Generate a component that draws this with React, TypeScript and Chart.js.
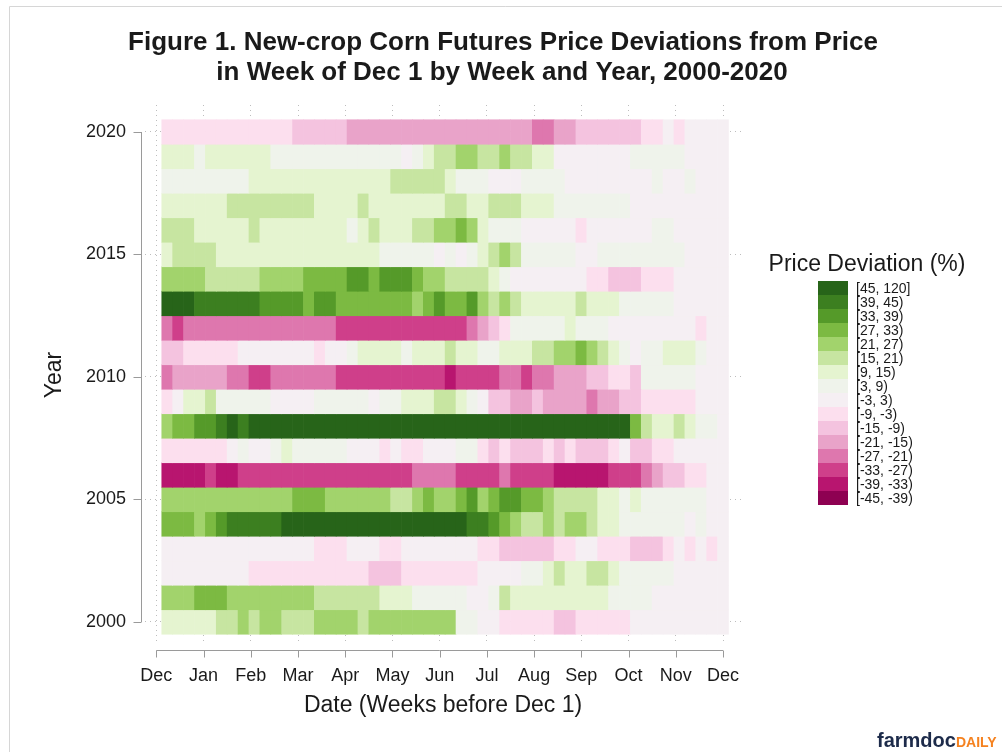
import React, { useEffect, useRef } from 'react';
import { Chart, registerables } from 'chart.js';

Chart.register(...registerables);

// ---------- data ----------
const titleLines = [
  'Figure 1. New-crop Corn Futures Price Deviations from Price',
  'in Week of Dec 1 by Week and Year, 2000-2020',
];
const monthLabels = ['Dec', 'Jan', 'Feb', 'Mar', 'Apr', 'May', 'Jun', 'Jul', 'Aug', 'Sep', 'Oct', 'Nov', 'Dec'];
const yearTicks = [2000, 2005, 2010, 2015, 2020];
const weeks = [1, 2, 3, 4, 5, 6, 7, 8, 9, 10, 11, 12, 13, 14, 15, 16, 17, 18, 19, 20, 21, 22, 23, 24, 25, 26,
  27, 28, 29, 30, 31, 32, 33, 34, 35, 36, 37, 38, 39, 40, 41, 42, 43, 44, 45, 46, 47, 48, 49, 50, 51, 52];

// price deviation (%) per week, weeks 1..52 before Dec 1 (estimated from colour bins)
const dev2020 = [-6, -6, -6, -6, -6, -6, -6, -6, -6, -6, -6, -6, -12, -12, -12, -12, -12, -18, -18, -18, -18, -18, -18, -18, -18, -18, -18, -18, -18, -18, -18, -18, -18, -18, -24, -24, -18, -18, -12, -12, -12, -12, -12, -12, -6, -6, 0, -6, 0, 0, 0, 0];
const dev2019 = [12, 12, 12, 6, 12, 12, 12, 12, 12, 12, 6, 6, 6, 6, 6, 6, 6, 6, 6, 6, 6, 6, 0, 6, 12, 18, 18, 24, 24, 18, 18, 24, 18, 18, 12, 12, 0, 0, 0, 0, 0, 0, 0, 6, 6, 6, 6, 6, 0, 0, 0, 0];
const dev2018 = [6, 6, 6, 6, 6, 6, 6, 6, 12, 12, 12, 12, 12, 12, 12, 12, 12, 12, 12, 12, 12, 18, 18, 18, 18, 18, 12, 6, 6, 6, 0, 0, 0, 6, 6, 6, 6, 0, 0, 0, 0, 0, 0, 0, 0, 6, 0, 0, 6, 0, 0, 0];
const dev2017 = [12, 12, 12, 12, 12, 12, 18, 18, 18, 18, 18, 18, 18, 18, 12, 12, 12, 12, 18, 12, 12, 12, 12, 12, 12, 12, 18, 18, 12, 12, 18, 18, 18, 12, 12, 12, 6, 6, 6, 6, 6, 6, 6, 0, 0, 0, 0, 0, 0, 0, 0, 0];
const dev2016 = [18, 18, 18, 12, 12, 12, 12, 12, 18, 12, 12, 12, 12, 12, 12, 12, 12, 6, 12, 18, 12, 12, 12, 18, 18, 24, 24, 30, 24, 12, 6, 6, 6, 0, 0, 0, 0, 0, -6, 0, 0, 0, 0, 0, 0, 6, 6, 0, 0, 0, 0, 0];
const dev2015 = [12, 18, 18, 18, 18, 12, 12, 12, 12, 12, 12, 12, 12, 12, 12, 12, 12, 12, 12, 12, 6, 6, 6, 6, 6, 0, 6, 0, 6, 12, 18, 24, 18, 6, 6, 6, 6, 6, 0, 0, 6, 6, 6, 6, 6, 6, 6, 6, 0, 0, 0, 0];
const dev2014 = [24, 24, 24, 24, 18, 18, 18, 18, 18, 24, 24, 24, 24, 30, 30, 30, 30, 36, 36, 30, 36, 36, 36, 30, 24, 24, 18, 18, 18, 18, 12, 6, 0, 0, 0, 0, 0, 0, 0, -6, -6, -12, -12, -12, -6, -6, -6, 0, 0, 0, 0, 0];
const dev2013 = [48, 48, 48, 42, 42, 42, 42, 42, 42, 36, 36, 36, 36, 30, 36, 36, 30, 30, 30, 30, 30, 30, 30, 24, 30, 36, 30, 30, 36, 24, 18, 24, 18, 12, 12, 12, 12, 12, 18, 12, 12, 12, 6, 6, 6, 6, 6, 0, 0, 0, 0, 0];
const dev2012 = [-24, -30, -24, -24, -24, -24, -24, -24, -24, -24, -24, -24, -24, -24, -24, -24, -30, -30, -30, -30, -30, -30, -30, -30, -30, -30, -30, -30, -24, -18, -12, -6, 6, 6, 6, 6, 6, 12, 6, 6, 6, 0, 0, 0, 0, 0, 0, 0, 0, -6, 0, 0];
const dev2011 = [-12, -12, -6, -6, -6, -6, -6, 0, 0, 0, 0, 0, 0, 0, -6, 0, 0, 6, 12, 12, 12, 12, 6, 12, 12, 12, 18, 12, 12, 6, 6, 12, 12, 12, 18, 18, 24, 24, 30, 24, 18, 12, 6, 0, 6, 6, 12, 12, 12, 6, 0, 0];
const dev2010 = [-24, -18, -18, -18, -18, -18, -24, -24, -30, -30, -24, -24, -24, -24, -24, -24, -30, -30, -30, -30, -30, -30, -30, -30, -30, -30, -36, -30, -30, -30, -30, -24, -24, -30, -24, -24, -18, -18, -18, -12, -12, -6, -6, -12, 6, 6, 6, 6, 6, 0, 0, 0];
const dev2009 = [-6, 0, 12, 12, 18, 6, 6, 6, 6, 6, 0, 0, 0, 0, 6, 6, 6, 6, 6, 0, 6, 6, 12, 12, 12, 18, 18, 12, 6, 0, -12, -12, -18, -18, -12, -18, -18, -18, -18, -24, -18, -18, -12, -12, -6, -6, -6, -6, -6, 0, 0, 0];
const dev2008 = [24, 30, 30, 36, 36, 42, 48, 42, 48, 48, 48, 48, 48, 48, 48, 48, 48, 48, 48, 48, 48, 48, 48, 48, 48, 48, 48, 48, 48, 48, 48, 48, 48, 48, 48, 48, 48, 48, 48, 48, 48, 48, 48, 30, 18, 12, 12, 18, 12, 6, 6, 0];
const dev2007 = [-6, -6, -6, -6, -6, -6, 0, 6, 0, 0, 6, 12, 6, 6, 6, 6, 6, 0, 0, 0, -6, 0, -6, -6, 0, 0, 0, 6, 6, -6, -12, -6, -12, -12, -12, -6, -12, -6, -12, -12, -12, -6, 0, -12, -12, -6, -6, 0, 0, 0, 0, 0];
const dev2006 = [-36, -36, -36, -36, -30, -36, -36, -30, -30, -30, -30, -30, -30, -30, -30, -30, -30, -30, -30, -30, -30, -30, -30, -24, -24, -24, -24, -30, -30, -30, -30, -24, -30, -30, -30, -30, -36, -36, -36, -36, -36, -30, -30, -30, -24, -18, -12, -12, -6, -6, 0, 0];
const dev2005 = [24, 24, 24, 24, 24, 24, 24, 24, 24, 24, 24, 24, 30, 30, 30, 24, 24, 24, 24, 24, 24, 18, 18, 24, 30, 24, 24, 30, 36, 24, 30, 36, 36, 30, 30, 24, 18, 18, 18, 18, 12, 12, 6, 12, 6, 6, 6, 6, 6, 6, 0, 0];
const dev2004 = [30, 30, 30, 24, 30, 36, 42, 42, 42, 42, 42, 48, 48, 48, 48, 48, 48, 48, 48, 48, 48, 48, 48, 48, 48, 48, 48, 48, 42, 42, 36, 30, 24, 18, 18, 24, 18, 24, 24, 18, 12, 12, 6, 6, 6, 6, 6, 6, 0, 6, 0, 0];
const dev2003 = [0, 0, 0, 0, 0, 0, 0, 0, 0, 0, 0, 0, 0, 0, -6, -6, -6, 0, 0, 0, -6, -6, 0, 0, 0, 0, 0, 0, 0, -6, -6, -12, -12, -12, -12, -12, -6, -6, 0, 0, -6, -6, -6, -12, -12, -12, -6, 0, -6, 0, -6, 0];
const dev2002 = [0, 0, 0, 0, 0, 0, 0, 0, -6, -6, -6, -6, -6, -6, -6, -6, -6, -6, -6, -12, -12, -12, -6, -6, -6, -6, -6, -6, -6, 0, 0, 0, 0, 6, 6, 12, 18, 12, 12, 18, 18, 12, 6, 6, 6, 6, 6, 0, 0, 0, 0, 0];
const dev2001 = [24, 24, 24, 30, 30, 30, 24, 24, 24, 24, 24, 24, 24, 24, 18, 18, 18, 18, 18, 18, 12, 12, 12, 6, 6, 6, 6, 6, 0, 0, 6, 18, 12, 12, 12, 12, 12, 12, 12, 12, 12, 6, 6, 6, 6, 0, 0, 0, 0, 0, 0, 0];
const dev2000 = [12, 12, 12, 12, 12, 18, 18, 24, 18, 24, 24, 18, 18, 18, 24, 24, 24, 24, 18, 24, 24, 24, 24, 24, 24, 24, 24, 6, 6, 0, 0, -6, -6, -6, -6, -6, -12, -12, -6, -6, -6, -6, -6, 0, 0, 0, 0, 0, 0, 0, 0, 0];

const years = [2000, 2001, 2002, 2003, 2004, 2005, 2006, 2007, 2008, 2009, 2010, 2011, 2012, 2013, 2014, 2015, 2016, 2017, 2018, 2019, 2020];
const yearRows = [dev2000, dev2001, dev2002, dev2003, dev2004, dev2005, dev2006, dev2007, dev2008, dev2009, dev2010,
  dev2011, dev2012, dev2013, dev2014, dev2015, dev2016, dev2017, dev2018, dev2019, dev2020];

// colour bins (low -> high)
const binEdges = [-45, -39, -33, -27, -21, -15, -9, -3, 3, 9, 15, 21, 27, 33, 39, 45, 120];
const binLabels = ['[-45, -39)', '[-39, -33)', '[-33, -27)', '[-27, -21)', '[-21, -15)', '[-15, -9)', '[-9, -3)', '[-3, 3)',
  '[3, 9)', '[9, 15)', '[15, 21)', '[21, 27)', '[27, 33)', '[33, 39)', '[39, 45)', '[45, 120]'];
const binColors = ['#8e0152', '#b8156f', '#cf3f8a', '#de77ae', '#e9a3c9', '#f4c3df', '#fcdfee', '#f5eff3',
  '#eff3eb', '#e5f4d0', '#c7e5a1', '#a2d36c', '#7cba42', '#559a29', '#3c7f20', '#276419'];

const FONT = '"Liberation Sans", Arial, Helvetica, sans-serif';

function colorFor(v: number): string {
  for (let k = 0; k < binEdges.length - 1; k++) {
    if (v >= binEdges[k] && v < binEdges[k + 1]) return binColors[k];
  }
  return v < binEdges[0] ? binColors[0] : binColors[binColors.length - 1];
}

const decorPlugin = {
  id: 'decor',
  beforeDraw(chart: any) {
    const { ctx, width, height } = chart;
    ctx.save();
    ctx.fillStyle = '#ffffff';
    ctx.fillRect(0, 0, width, height);
    ctx.strokeStyle = '#d6d6d6';
    ctx.lineWidth = 1;
    ctx.beginPath();
    ctx.moveTo(9.5, height);
    ctx.lineTo(9.5, 6.5);
    ctx.lineTo(width, 6.5);
    ctx.stroke();
    ctx.restore();
  },
  afterDraw(chart: any) {
    const { ctx, chartArea, scales } = chart;
    const xs = scales.x;
    const ys = scales.y;
    ctx.save();

    // title
    ctx.fillStyle = '#1a1a1a';
    ctx.font = `bold 26px ${FONT}`;
    ctx.textAlign = 'center';
    ctx.textBaseline = 'middle';
    ctx.fillText(titleLines[0], 503, 43);
    ctx.fillText(titleLines[1], 502, 73);

    // x axis line + ticks
    ctx.strokeStyle = '#9a9a9a';
    ctx.lineWidth = 1;
    const ay = Math.round(chartArea.bottom + 5) + 0.5;
    const x0 = xs.getPixelForValue(0);
    const x1 = xs.getPixelForValue(52);
    ctx.beginPath();
    ctx.moveTo(x0, ay);
    ctx.lineTo(x1, ay);
    monthLabels.forEach((_, k) => {
      const px = Math.round(xs.getPixelForValue((k * 52) / 12)) + 0.5;
      ctx.moveTo(px, ay);
      ctx.lineTo(px, ay + 7);
    });
    ctx.stroke();

    // y axis line + ticks
    const ax = Math.round(chartArea.left - 4) + 0.5;
    ctx.beginPath();
    ctx.moveTo(ax, ys.getPixelForValue(2000));
    ctx.lineTo(ax, ys.getPixelForValue(2020));
    yearTicks.forEach((yv) => {
      const py = Math.round(ys.getPixelForValue(yv)) + 0.5;
      ctx.moveTo(ax, py);
      ctx.lineTo(ax - 8, py);
    });
    ctx.stroke();

    // legend
    ctx.fillStyle = '#1a1a1a';
    ctx.font = `23px ${FONT}`;
    ctx.textAlign = 'center';
    ctx.fillText('Price Deviation (%)', 867, 265);
    const boxX = 818;
    const boxW = 30;
    const boxH = 14;
    const top = 281;
    ctx.font = `14px ${FONT}`;
    ctx.textAlign = 'left';
    for (let i = 0; i < binColors.length; i++) {
      const idx = binColors.length - 1 - i;
      ctx.fillStyle = binColors[idx];
      ctx.fillRect(boxX, top + i * boxH, boxW, boxH);
      ctx.fillStyle = '#1a1a1a';
      ctx.fillText(binLabels[idx], 856, top + i * boxH + boxH / 2 + 1);
    }

    // logo text
    ctx.textBaseline = 'alphabetic';
    ctx.textAlign = 'left';
    ctx.font = `bold 20px ${FONT}`;
    ctx.fillStyle = '#1d2b4a';
    ctx.fillText('farmdoc', 877, 747);
    const w = ctx.measureText('farmdoc').width;
    ctx.font = `bold 14px ${FONT}`;
    ctx.fillStyle = '#f58220';
    ctx.fillText('DAILY', 877 + w, 747);

    ctx.restore();
  },
};

export default function App() {
  const canvasRef = useRef<HTMLCanvasElement | null>(null);

  useEffect(() => {
    if (!canvasRef.current) return;
    const points: any[] = [];
    const colors: string[] = [];
    yearRows.forEach((row, r) => {
      row.forEach((v, w) => {
        const wk = weeks[w];
        points.push({ x: [wk - 0.5, wk + 0.5], y: years[r] });
        colors.push(colorFor(v));
      });
    });

    const chart = new Chart(canvasRef.current, {
      type: 'bar',
      data: {
        datasets: [
          {
            data: points,
            backgroundColor: colors,
            borderWidth: 0,
            barPercentage: 1,
            categoryPercentage: 1,
          } as any,
        ],
      },
      options: {
        indexAxis: 'y',
        animation: false,
        responsive: false,
        devicePixelRatio: 1,
        events: [],
        layout: { padding: { top: 105, right: 261, bottom: 27, left: 0 } },
        plugins: {
          legend: { display: false },
          tooltip: { enabled: false },
          title: { display: false },
        },
        scales: {
          x: {
            type: 'linear',
            min: -1.04,
            max: 53.65,
            afterBuildTicks: (scale: any) => {
              scale.ticks = monthLabels.map((_, k) => ({ value: (k * 52) / 12 }));
            },
            afterFit: (scale: any) => {
              scale.height = 80;
            },
            ticks: {
              autoSkip: false,
              maxRotation: 0,
              minRotation: 0,
              padding: 20,
              color: '#1a1a1a',
              font: { family: FONT, size: 18 },
              callback: (_v: any, i: number) => monthLabels[i],
            },
            grid: { color: '#bdbdbd', lineWidth: 1, drawTicks: false, offset: false },
            border: { display: false, dash: [1, 4] },
            title: {
              display: true,
              text: 'Date (Weeks before Dec 1)',
              color: '#1a1a1a',
              font: { family: FONT, size: 23 },
              padding: { top: 0, bottom: 6 },
            },
          },
          y: {
            type: 'linear',
            min: 1999.061,
            max: 2021.102,
            offset: false,
            afterBuildTicks: (scale: any) => {
              scale.ticks = yearTicks.map((v) => ({ value: v }));
            },
            afterFit: (scale: any) => {
              scale.width = 145;
            },
            ticks: {
              padding: 19,
              color: '#1a1a1a',
              font: { family: FONT, size: 18 },
              callback: (v: any) => String(v),
            },
            grid: { color: '#bdbdbd', lineWidth: 1, drawTicks: false, offset: false },
            border: { display: false, dash: [1, 4] },
            title: {
              display: true,
              text: 'Year',
              color: '#1a1a1a',
              font: { family: FONT, size: 23 },
              padding: { top: 41, bottom: 0 },
            },
          },
        },
      } as any,
      plugins: [decorPlugin],
    });

    return () => chart.destroy();
  }, []);

  return (
    <div style={{ position: 'absolute', left: 0, top: 0, width: 1002, height: 752 }}>
      <canvas ref={canvasRef} width={1002} height={752} style={{ display: 'block' }} />
    </div>
  );
}
